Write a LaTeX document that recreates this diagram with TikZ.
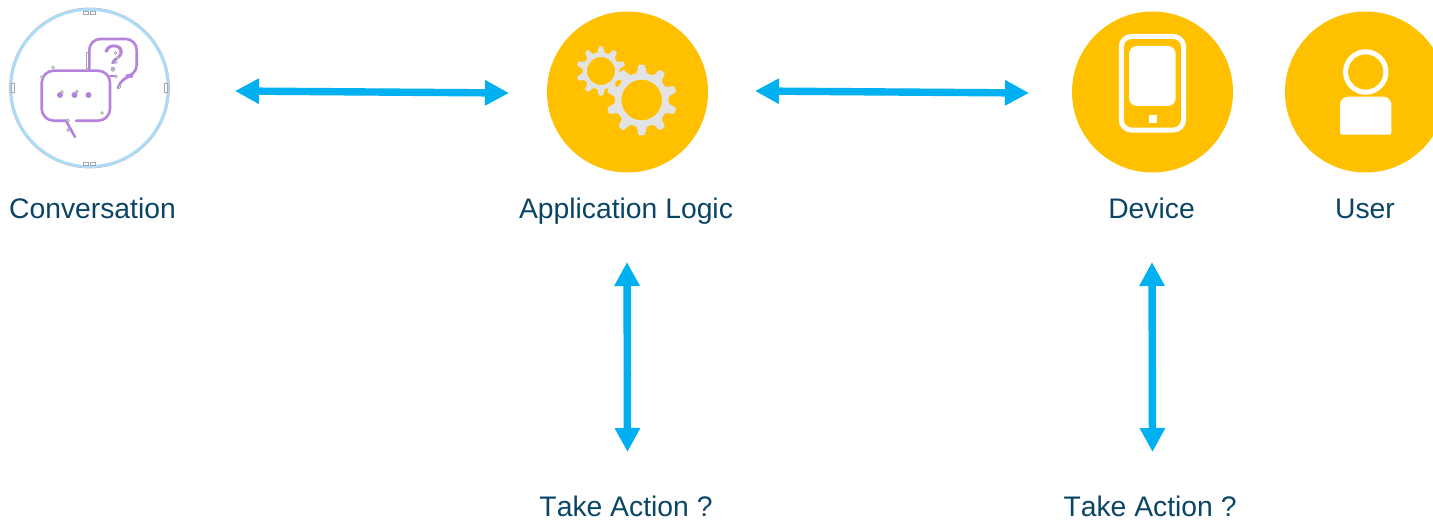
\documentclass[tikz,border=0pt]{standalone}
\usepackage{fontspec}
\setmainfont[Kerning=Off]{Liberation Sans}
\usetikzlibrary{arrows.meta}
\definecolor{disc}{HTML}{FFC000}
\definecolor{arrowblue}{HTML}{00B0F0}
\definecolor{labelblue}{HTML}{0B4566}
\definecolor{gearfill}{HTML}{E3E3E3}
\definecolor{bubble}{HTML}{B583DE}
\definecolor{ringblue}{HTML}{A9DDF9}
\tikzset{
  discnode/.style={circle,fill=disc,draw=none,minimum size=161*0.5pt,inner sep=0pt},
  ringnode/.style={circle,fill=white,draw=ringblue,line width=1.3pt,minimum size=157*0.5pt,inner sep=0pt},
  lbl/.style={text=labelblue,font=\fontsize{14.15pt}{17pt}\selectfont,anchor=base,inner sep=0pt},
  link/.style={draw=arrowblue,line width=3.7pt,{Triangle[length=12pt,width=12pt]}-{Triangle[length=12pt,width=12pt]}},
  whiteline/.style={draw=white,line width=2.5pt},
  bubbleline/.style={draw=bubble,line width=1.3pt,line cap=round},
  handle/.style={draw=black!35,fill=white,line width=0.3pt}
}
\newcommand{\gearpath}[6]{% cx cy outer root hole offset
  \fill[gearfill,even odd rule,rounded corners=0.5pt]
    ([shift={(#1,#2)}]#6-18:#4)
    \foreach \k in {0,...,9} {
      -- ([shift={(#1,#2)}]{#6+36*\k-18}:#4)
      -- ([shift={(#1,#2)}]{#6+36*\k-11}:#4)
      -- ([shift={(#1,#2)}]{#6+36*\k-5}:#3)
      -- ([shift={(#1,#2)}]{#6+36*\k+5}:#3)
      -- ([shift={(#1,#2)}]{#6+36*\k+11}:#4)
    } -- cycle
    (#1,#2) circle (#5);
}
\begin{document}
\begin{tikzpicture}[x=0.5pt,y=-0.5pt]
\useasboundingbox (0,0) rectangle (1433,519);
% discs
\draw[black!25,line width=0.4pt] (89.5,88) circle (80);
\node[ringnode] (conv) at (89.5,88) {};
\node[discnode] (app) at (627.5,92) {};
\node[discnode] (dev) at (1152.5,92) {};
\begin{scope}
\clip (0,0) rectangle (1433,519);
\node[discnode] (user) at (1365.5,92) {};
\end{scope}
% conversation outline artefacts
\foreach \hx/\hy/\hw/\hh in {86/12.7/5/3,93/12.7/5/3,86/164/5/3,93/164/5/3,12.7/88/3/9,166/88/3/9,87.5/60/3/16}
  \draw[handle] (\hx-\hw/2,\hy-\hh/2) rectangle (\hx+\hw/2,\hy+\hh/2);
% bubbles
\draw[bubbleline,rounded corners=5.5pt] (89.3,69) -- (89.3,39) -- (136.7,39) -- (136.7,76) -- (122,76) -- (118,88);
\draw[bubbleline] (110,76) -- (115,76);
\draw[bubbleline,rounded corners=6pt] (68,120.7) -- (41.7,120.7) -- (41.7,70.7) -- (110,70.7) -- (110,120.7) -- (76,120.7);
\draw[bubbleline] (66,120.7) -- (75,137);
\foreach \dx in {60,74.5,88.5} \fill[bubble] (\dx,95) circle (3);
\node[text=bubble,font=\fontsize{19pt}{22pt}\selectfont,inner sep=0pt] (qm) at (114,58) {?};
\foreach \hx/\hy in {41.7/77,53/67.5,62/92,77/91.5,68/120.5,68/130,102/113,116/76.5,119.5/87,115.5/53,117.5/58,116/62,113/70}
  \draw[handle] (\hx,\hy) circle (1.4);
% gears
\gearpath{601}{71}{24.7}{18.5}{14}{-90}
\gearpath{641.7}{100}{35.5}{27}{20.3}{-90}
% phone
\draw[whiteline,rounded corners=5pt] (1121.3,36.5) rectangle (1183.5,130);
\fill[white,rounded corners=4pt] (1129,46) rectangle (1175.7,106);
\fill[white] (1149,115) rectangle (1157,123);
% user
\draw[whiteline] (1365.7,72) circle (20.2);
\fill[white,rounded corners=1pt] (1340,134.7) -- (1391.3,134.7) -- (1391.3,105) [rounded corners=4pt] -- (1391.3,96.7) -- (1340,96.7) [rounded corners=1pt] -- cycle;
% labels
\node[lbl] (convl) at (92.5,218) {Conversation};
\node[lbl] (appl) at (626,218) {Application Logic};
\node[lbl] (devl) at (1151.5,218) {Device};
\node[lbl] (userl) at (1365,218) {User};
\node[lbl] (ta1) at (626,516) {Take Action ?};
\node[lbl] (ta2) at (1150,516) {Take Action ?};
% connector ends
\coordinate (a1) at (235,91);
\coordinate (a2) at (509,93);
\coordinate (b1) at (755,91);
\coordinate (b2) at (1029,93);
\coordinate (c1) at (627,262);
\coordinate (c2) at (627.5,452);
\coordinate (d1) at (1152,262);
\coordinate (d2) at (1152.5,452);
\draw[link] (a1) -- (a2);
\draw[link] (b1) -- (b2);
\draw[link] (c1) -- (c2);
\draw[link] (d1) -- (d2);
\end{tikzpicture}
\end{document}
